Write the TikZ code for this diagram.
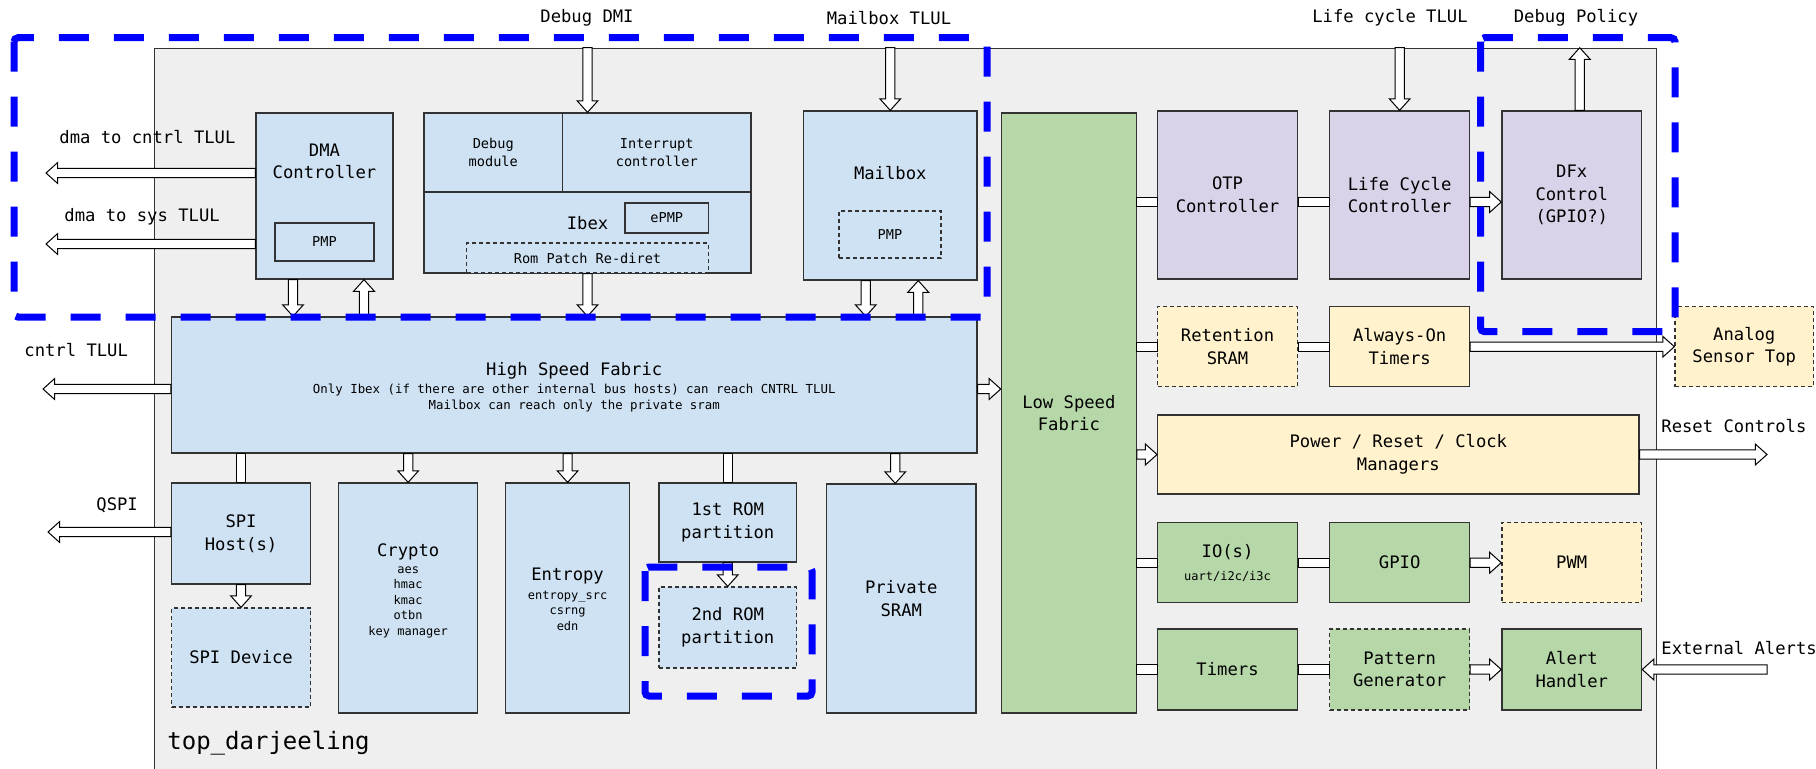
\documentclass[tikz,border=0pt]{standalone}
\usepackage{fontspec}
\setmainfont{DejaVu Sans Mono}
\usetikzlibrary{positioning,calc}

\definecolor{bgray}{HTML}{EFEFEF}
\definecolor{lblue}{HTML}{CFE2F3}
\definecolor{lpurple}{HTML}{D9D2E9}
\definecolor{lyellow}{HTML}{FFF2CC}
\definecolor{lgreen}{HTML}{B6D7A8}
\definecolor{edge}{HTML}{333333}
\definecolor{hlblue}{HTML}{0000FF}

\tikzset{
  smalltxt/.style={font=\fontsize{6.8}{9}\selectfont},
  subtxt/.style={font=\fontsize{6}{7.75}\selectfont},
  notetxt/.style={font=\fontsize{6.2}{8}\selectfont},
  bigtxt/.style={font=\fontsize{12}{14}\selectfont},
  busarrow/.style={draw=black, line width=0.5pt, fill=white,
    to path={let \p1=(\tikztostart), \p2=(\tikztotarget),
      \n1={atan2(\y2-\y1,\x2-\x1)}, \n2={veclen(\x2-\x1,\y2-\y1)-5.8pt} in
      (\p1) -- ++({\n1+90}:2.3pt) -- ++({\n1}:\n2) -- ++({\n1+90}:2.9pt) -- (\p2)
      -- ($(\p1)+({\n1}:\n2)+({\n1-90}:5.2pt)$) -- ++({\n1+90}:2.9pt)
      -- ($(\p1)+({\n1-90}:2.3pt)$) -- cycle}},
  buslink/.style={draw=black, line width=0.5pt, fill=white,
    to path={let \p1=(\tikztostart), \p2=(\tikztotarget),
      \n1={atan2(\y2-\y1,\x2-\x1)} in
      ($(\p1)+({\n1+90}:2.3pt)$) -- ($(\p2)+({\n1+90}:2.3pt)$)
      -- ($(\p2)+({\n1-90}:2.3pt)$) -- ($(\p1)+({\n1-90}:2.3pt)$) -- cycle}},
  region/.style={draw=hlblue, line width=3.5pt, dash pattern=on 15pt off 12.5pt, rounded corners=2pt}
}

\begin{document}
\begin{tikzpicture}[
  x=0.5pt, y=-0.5pt,
  every node/.style={font=\fontsize{8.6}{11.3}\selectfont, inner sep=0pt, align=center},
  box/.style={draw=edge, line width=0.65pt},
  opt/.style={box, dash pattern=on 2pt off 1.5pt},
  cell/.style={minimum width=69.85pt}
]
\useasboundingbox (0,0) rectangle (1816,768);

% chip outline
\node[draw=edge, fill=bgray, line width=0.6pt, minimum width=750.8pt, minimum height=362pt, anchor=north west] (bg) at (154,47.7) {};
\node[bigtxt, anchor=west] (toplbl) at (167,743) {top\_darjeeling};

% hosts
\node[box, fill=lblue, minimum width=68.5pt, minimum height=83pt] (dma) at (324.5,196) {};
\node (dmatitle) at ([yshift=-24.5pt]dma.north) {DMA\\Controller};
\node[box, fill=lblue, smalltxt, minimum width=49.5pt, minimum height=19pt] (dmapmp) at (324.5,242) {PMP};

\node[box, fill=lblue, minimum width=163.5pt, minimum height=80pt] (ibex) at (587.5,193) {};
\node[box, fill=lblue, smalltxt, minimum width=69.25pt, minimum height=39.5pt, anchor=north west] (dbgmod) at (ibex.north west) {Debug\\module};
\node[box, fill=lblue, smalltxt, minimum width=94.25pt, minimum height=39.5pt, anchor=north east] (irq) at (ibex.north east) {Interrupt\\controller};
\node (ibextitle) at ([yshift=-15pt]ibex.center) {Ibex};
\node[box, fill=lblue, smalltxt, minimum width=41.75pt, minimum height=15pt] (epmp) at (666.75,218) {ePMP};
\node[opt, fill=lblue, smalltxt, minimum width=120.75pt, minimum height=15pt, anchor=south] (rompatch) at (ibex.south) {Rom Patch Re-diret};

\node[box, fill=lblue, minimum width=86.75pt, minimum height=84.5pt] (mailbox) at (890.25,195.5) {};
\node (mbxtitle) at ([yshift=-31.5pt]mailbox.north) {Mailbox};
\node[opt, fill=lblue, smalltxt, minimum width=51pt, minimum height=23.5pt] (mbxpmp) at (890,234.5) {PMP};

% high speed side
\node[box, fill=lblue, minimum width=402.75pt, minimum height=68pt] (hsf) at (574.25,385) {};
\node (hsftitle) at (574.25,371) {High Speed Fabric};
\node[notetxt] (hsfnote) at (574.25,398) {Only Ibex (if there are other internal bus hosts) can reach CNTRL TLUL\\Mailbox can reach only the private sram};

\node[box, fill=lblue, minimum width=69.55pt, minimum height=50.5pt] (spihost) at (241.05,533.5) {SPI\\Host(s)};
\node[opt, fill=lblue, minimum width=69.55pt, minimum height=49.5pt] (spidev) at (241.05,657.5) {SPI Device};
\node[box, fill=lblue, minimum width=69.55pt, minimum height=115pt] (crypto) at (408.15,598) {};
\node (cryptotitle) at (408.15,552) {Crypto};
\node[subtxt] (cryptosub) at (408.15,602) {aes\\hmac\\kmac\\otbn\\key manager};
\node[box, fill=lblue, minimum width=61.9pt, minimum height=115pt] (entropy) at (567.6,598) {};
\node (entropytitle) at (567.6,576) {Entropy};
\node[subtxt] (entropysub) at (567.6,610.5) {entropy\_src\\csrng\\edn};
\node[box, fill=lblue, minimum width=68.75pt, minimum height=39.5pt] (rom1) at (727.75,522.5) {1st ROM\\partition};
\node[opt, fill=lblue, minimum width=68.75pt, minimum height=40.5pt] (rom2) at (727.75,627.5) {2nd ROM\\partition};
\node[box, fill=lblue, minimum width=74.75pt, minimum height=114.5pt] (sram) at (901.25,598.5) {Private\\SRAM};

% low speed side
\node[box, fill=lgreen, minimum width=67.45pt, minimum height=300pt] (lsf) at (1068.85,413) {Low Speed\\Fabric};

\node[box, cell, fill=lpurple, minimum height=84pt] (otp) at (1227.55,195) {OTP\\Controller};
\node[box, cell, fill=lpurple, minimum height=84pt, right=15.55pt of otp] (lcc) {Life Cycle\\Controller};
\node[box, cell, fill=lpurple, minimum height=84pt, right=15.55pt of lcc] (dfx) {DFx\\Control\\(GPIO?)};

\node[opt, cell, fill=lyellow, minimum height=40pt] (retsram) at (1227.55,346.7) {Retention\\SRAM};
\node[box, cell, fill=lyellow, minimum height=40pt, right=15.55pt of retsram] (aon) {Always-On\\Timers};
\node[opt, fill=lyellow, minimum width=69.25pt, minimum height=40pt] (analog) at (1744.25,346.7) {Analog\\Sensor Top};

\node[box, fill=lyellow, minimum width=240.65pt, minimum height=39.5pt] (prc) at (1398.35,454.5) {Power / Reset / Clock\\Managers};

\node[box, cell, fill=lgreen, minimum height=40pt] (io) at (1227.55,562.7) {};
\node (iotitle) at (1227.55,551.7) {IO(s)};
\node[subtxt] (iosub) at (1227.55,576.7) {uart/i2c/i3c};
\node[box, cell, fill=lgreen, minimum height=40pt, right=15.55pt of io] (gpio) {GPIO};
\node[opt, cell, fill=lyellow, minimum height=40pt, right=15.55pt of gpio] (pwm) {PWM};

\node[box, cell, fill=lgreen, minimum height=40.5pt] (timers) at (1227.55,669.5) {Timers};
\node[opt, cell, fill=lgreen, minimum height=40.5pt, right=15.55pt of timers] (patgen) {Pattern\\Generator};
\node[box, cell, fill=lgreen, minimum height=40.5pt, right=15.55pt of patgen] (alert) {Alert\\Handler};

% outside labels
\node (dmilbl) at (587,18) {Debug DMI};
\node (mbxlbl) at (889,18) {Mailbox TLUL};
\node (lclbl) at (1390,18) {Life cycle TLUL};
\node (dbgpollbl) at (1576,18) {Debug Policy};
\node[anchor=west] (dmactllbl) at (59,137) {dma to cntrl TLUL};
\node[anchor=west] (dmasyslbl) at (64,217) {dma to sys TLUL};
\node[anchor=west] (cntrllbl) at (24,350) {cntrl TLUL};
\node[anchor=west] (qspilbl) at (96,505) {QSPI};
\node[anchor=west] (rstlbl) at (1661,426) {Reset Controls};
\node[anchor=west] (extlbl) at (1661,648) {External Alerts};

\coordinate (dmactl) at (46,173);
\coordinate (dmasys) at (46,244);
\coordinate (cntrl) at (43,389);
\coordinate (qspi) at (48,532);
\coordinate (rstctl) at (1767,454.5);
\coordinate (extalert) at (1767,669.5);

% buses into the chip
\draw[busarrow] (ibex.north |- bg.north) to (ibex.north);
\draw[busarrow] (mailbox.north |- bg.north) to (mailbox.north);
\draw[busarrow] (lcc.north |- bg.north) to (lcc.north);
\draw[busarrow] ([xshift=4pt]dfx.north) to ([xshift=4pt]dfx.north |- bg.north);
\draw[busarrow] (dma.west |- dmactl) to (dmactl);
\draw[busarrow] (dma.west |- dmasys) to (dmasys);
\draw[busarrow] (hsf.west |- cntrl) to (cntrl);
\draw[busarrow] (spihost.west |- qspi) to (qspi);
\draw[busarrow] (prc.east) to (rstctl);
\draw[busarrow] (extalert) to (alert.east);

% high speed fabric
\draw[busarrow] ([xshift=-15.75pt]dma.south) to ([xshift=-15.75pt]dma.south |- hsf.north);
\draw[busarrow] ([xshift=19.75pt]dma.south |- hsf.north) to ([xshift=19.75pt]dma.south);
\draw[busarrow] (ibex.south) to (ibex.south |- hsf.north);
\draw[busarrow] ([xshift=-12.25pt]mailbox.south) to ([xshift=-12.25pt]mailbox.south |- hsf.north);
\draw[busarrow] ([xshift=14pt]mailbox.south |- hsf.north) to ([xshift=14pt]mailbox.south);
\draw[busarrow] ([yshift=-2pt]hsf.east) to ([yshift=-2pt]hsf.east -| lsf.west);
\draw[buslink] (spihost.north |- hsf.south) to (spihost.north);
\draw[busarrow] (crypto.north |- hsf.south) to (crypto.north);
\draw[busarrow] (entropy.north |- hsf.south) to (entropy.north);
\draw[buslink] (rom1.north |- hsf.south) to (rom1.north);
\draw[busarrow] ([xshift=-3pt]sram.north |- hsf.south) to ([xshift=-3pt]sram.north);
\draw[busarrow] (spihost.south) to (spidev.north);
\draw[busarrow] (rom1.south) to (rom2.north);

% low speed fabric
\draw[buslink] ([yshift=-3.5pt]otp.west -| lsf.east) to ([yshift=-3.5pt]otp.west);
\draw[buslink] ([yshift=-3.5pt]otp.east) to ([yshift=-3.5pt]lcc.west);
\draw[busarrow] ([yshift=-3.5pt]lcc.east) to ([yshift=-3.5pt]dfx.west);
\draw[buslink] (retsram.west -| lsf.east) to (retsram.west);
\draw[buslink] (retsram.east) to (aon.west);
\draw[busarrow] (aon.east) to (analog.west);
\draw[busarrow] (prc.west -| lsf.east) to (prc.west);
\draw[buslink] (io.west -| lsf.east) to (io.west);
\draw[buslink] (io.east) to (gpio.west);
\draw[busarrow] (gpio.east) to (pwm.west);
\draw[buslink] (timers.west -| lsf.east) to (timers.west);
\draw[buslink] (timers.east) to (patgen.west);
\draw[busarrow] (patgen.east) to (alert.west);

% highlighted regions
\draw[region] (14,37.7) rectangle (987,317);
\draw[region] (1480.5,37.7) rectangle (1675,331.7);
\draw[region] (645,567) rectangle (812,696);
\end{tikzpicture}
\end{document}
